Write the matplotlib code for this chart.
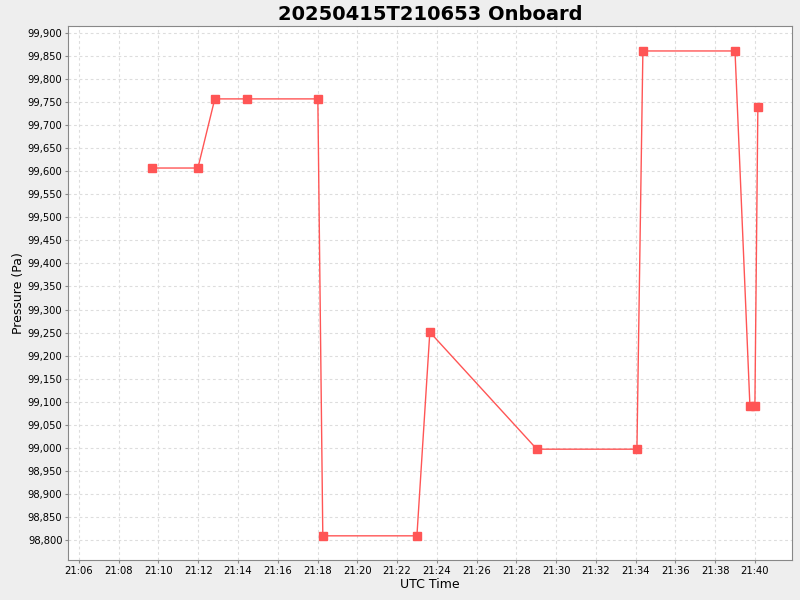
import datetime as dt
import matplotlib
matplotlib.use("Agg")
import matplotlib.pyplot as plt
import matplotlib.dates as mdates
from matplotlib.ticker import FuncFormatter, MultipleLocator

times = ["21:09:40", "21:11:59", "21:12:50", "21:14:27", "21:18:01",
         "21:18:16", "21:23:00", "21:23:39", "21:29:02", "21:34:04",
         "21:34:22", "21:39:00", "21:39:45", "21:40:00", "21:40:09"]
pressure = [99607, 99607, 99757, 99757, 99757,
            98809, 98809, 99251, 98997, 98997,
            99861, 99861, 99091, 99091, 99740]

day = dt.date(2025, 4, 15)
t = [dt.datetime.combine(day, dt.time.fromisoformat(s)) for s in times]

fig = plt.figure(figsize=(8, 6), dpi=100, facecolor="#eeeeee")
ax = fig.add_axes([0.085, 0.0667, 0.905, 0.89])
ax.set_facecolor("white")

ax.plot(t, pressure, color="#ff5555", lw=1, marker="s", ms=6,
        mfc="#ff5555", mec="#ff5555")

ax.set_xlim(dt.datetime(2025, 4, 15, 21, 5, 27), dt.datetime(2025, 4, 15, 21, 41, 52))
ax.set_ylim(98756.6, 99915.2)
ax.xaxis.set_major_locator(mdates.MinuteLocator(byminute=range(0, 60, 2)))
ax.xaxis.set_major_formatter(mdates.DateFormatter("%H:%M"))
ax.yaxis.set_major_locator(MultipleLocator(50))
ax.yaxis.set_major_formatter(FuncFormatter(lambda v, p: f"{v:,.0f}"))

ax.grid(True, color="#dddddd", ls=(0, (2.5, 2.5)), lw=0.8)
for s in ax.spines.values():
    s.set_color("#888888")
ax.tick_params(labelsize=7.2, length=2, pad=2, color="#888888")

ax.set_title("20250415T210653 Onboard", fontsize=14, fontweight="bold", pad=4)
ax.set_xlabel("UTC Time", fontsize=9, labelpad=2)
ax.set_ylabel("Pressure (Pa)", fontsize=9, labelpad=2)

fig.savefig("out.png", dpi=100, facecolor=fig.get_facecolor())
